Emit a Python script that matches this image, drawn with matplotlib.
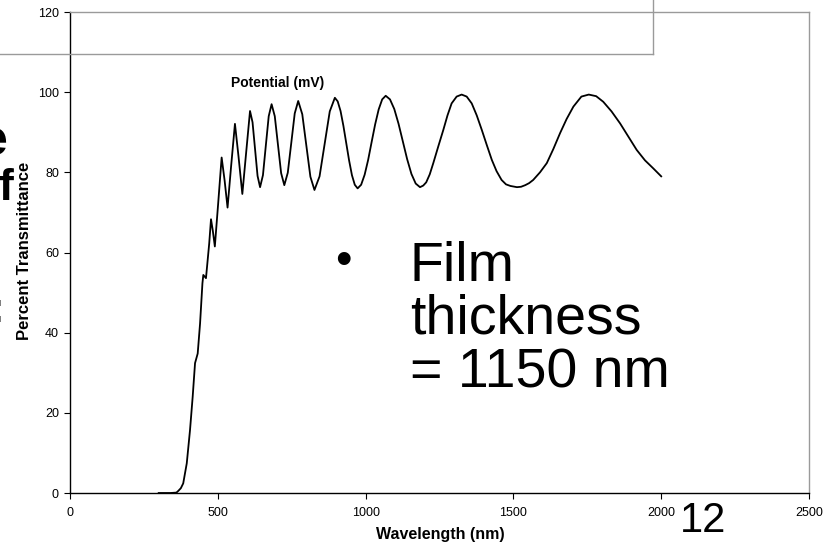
import matplotlib
matplotlib.use("Agg")
import matplotlib.pyplot as plt
from matplotlib.lines import Line2D

plt.rcParams["font.family"] = ["Liberation Sans", "DejaVu Sans"]

# transmittance spectrum (wavelength nm, percent T)
wavelength = [
    300, 340, 360, 366, 375, 383, 395, 406, 415, 423, 432, 440, 448, 451, 460,
    471, 477, 483, 490, 501, 513, 523, 533, 545, 558, 570, 583, 596, 609,
    617.5, 626, 634.5, 643, 652.75, 662.5, 672.25, 682, 692.75, 703.5, 714.25,
    725, 736.75, 748.5, 760.25, 772, 785.75, 799.5, 813.25, 827, 844.25, 861.5,
    878.75, 896, 905.6, 915.25, 924.9, 934.5, 944.1, 953.75, 963.4, 973,
    984.9, 996.75, 1008.6, 1020.5, 1032.4, 1044.25, 1056.1, 1068,
    1082.5, 1097, 1111.5, 1126, 1140.5, 1155, 1169.5, 1184,
    1195, 1205, 1217, 1229, 1246, 1263, 1277, 1291, 1308, 1325,
    1342, 1359, 1376, 1393, 1410, 1427, 1443, 1460, 1475, 1490, 1512,
    1526, 1540, 1553, 1567, 1590, 1613, 1635, 1658, 1680, 1703, 1730, 1755,
    1780, 1804, 1832, 1861, 1889, 1917, 1945, 1973, 2000,
]
transmittance = [
    0, 0, 0.1, 0.5, 1.2, 2.4, 7.4, 15.7, 24.0, 32.4, 34.8, 42.3, 52.3, 54.4, 53.6,
    62.3, 68.3, 65.5, 61.5, 72.0, 83.7, 78.0, 71.2, 81.5, 92.1, 84.0, 74.6, 85.0, 95.3,
    92.5, 85.8, 79.1, 76.3, 79.3, 86.7, 94.0, 97.0, 94.0, 86.9, 79.8,
    76.8, 79.9, 87.3, 94.7, 97.8, 94.5, 86.7, 78.9, 75.6, 79.0, 87.1,
    95.2, 98.6, 97.7, 95.3, 91.6, 87.3, 83.0, 79.3, 76.9, 76.0,
    76.9, 79.4, 83.1, 87.6, 92.0, 95.7, 98.2, 99.1,
    98.2, 95.8, 92.1, 87.7, 83.3, 79.6, 77.2, 76.3,
    76.7, 77.5, 79.5, 82.3, 86.5, 90.6, 94.2, 97.2, 98.9, 99.4,
    98.9, 97.2, 94.2, 90.6, 86.8, 83.1, 80.3, 78.1, 77.0, 76.6, 76.3,
    76.4, 76.8, 77.3, 78.1, 80.0, 82.3, 85.8, 89.8, 93.3, 96.4, 98.9, 99.4,
    99.0, 97.6, 95.2, 92.2, 88.9, 85.6, 83.0, 81.0, 79.0,
]

x_ticks = [0, 500, 1000, 1500, 2000, 2500]
y_ticks = [0, 20, 40, 60, 80, 100, 120]

bullet_lines = ["Film", "thickness", "= 1150 nm"]

W, H = 825, 546
fig = plt.figure(figsize=(W / 100, H / 100), dpi=100)
fig.patch.set_facecolor("white")

# axes box in pixel terms: x 70..809, y 12..493
ax = fig.add_axes([70 / W, 1 - 493 / H, (809 - 70) / W, (493 - 12) / H])
ax.plot(wavelength, transmittance, color="black", lw=1.3)
ax.set_xlim(0, 2500)
ax.set_ylim(0, 120)
ax.set_xticks(x_ticks)
ax.set_yticks(y_ticks)
ax.tick_params(direction="out", length=4, width=0.8, labelsize=9, colors="black")
ax.tick_params(axis="x", pad=6)
ax.tick_params(axis="y", pad=4)
for side in ["left", "bottom"]:
    ax.spines[side].set_color("black")
    ax.spines[side].set_linewidth(1.0)
for side in ["top", "right"]:
    ax.spines[side].set_color("#9a9a9a")
    ax.spines[side].set_linewidth(1.0)

fig.text(440 / W, 1 - 535 / H, "Wavelength (nm)", fontsize=11.5,
         fontweight="bold", ha="center", va="center")
fig.text(25 / W, 1 - 251 / H, "Percent Transmittance", rotation=90,
         fontsize=12, fontweight="bold", ha="center", va="center")
fig.text(278 / W, 1 - 83 / H, "Potential (mV)", fontsize=10,
         fontweight="bold", ha="center", va="center")

# slide overlay box at the top
fig.add_artist(Line2D([0, 653 / W], [1 - 54 / H, 1 - 54 / H],
                      color="#9a9a9a", lw=1.0))
fig.add_artist(Line2D([653 / W, 653 / W], [1 - 54 / H, 1.0],
                      color="#9a9a9a", lw=1.0))

# slide bullet text
fig.text(343 / W, 1 - 262 / H, "\u2022", fontsize=34, ha="center", va="center")
for i, line in enumerate(bullet_lines):
    fig.text(410 / W, 1 - (281 + 53 * i) / H, line, fontsize=40,
             ha="left", va="baseline")
fig.text(703 / W, 1 - 532 / H, "12", fontsize=30, ha="center", va="baseline")

# title letters of the slide, clipped at the left edge
fig.text(8 / W, 1 - 155 / H, "e", fontsize=36, fontweight="bold",
         ha="right", va="baseline")
fig.text(13 / W, 1 - 200 / H, "f", fontsize=32, fontweight="bold",
         ha="right", va="baseline")
fig.text(4 / W, 1 - 322 / H, ":", fontsize=32, fontweight="bold",
         ha="right", va="baseline")

fig.savefig("out.png", dpi=100)
